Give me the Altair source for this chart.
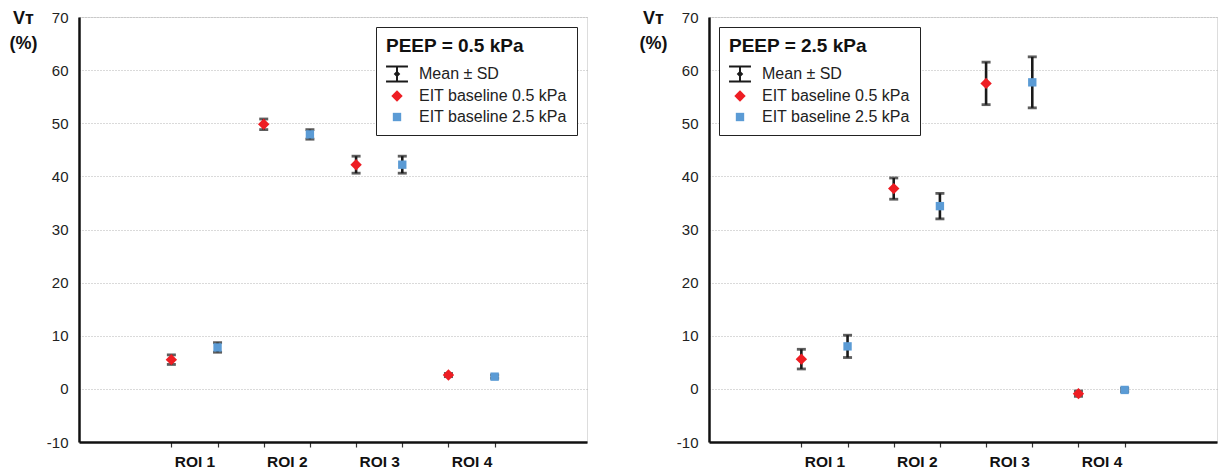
import altair as alt
import pandas as pd

# ---------------- data ----------------
rois = ["ROI 1", "ROI 2", "ROI 3", "ROI 4"]
series = ["EIT baseline 0.5 kPa", "EIT baseline 2.5 kPa"]
series_short = ["0.5", "2.5"]
mean_label = "Mean ± SD"
panel_titles = ["PEEP = 0.5 kPa", "PEEP = 2.5 kPa"]
y_title = ["V\u1d1b", "(%)"]
y_ticks = [-10, 0, 10, 20, 30, 40, 50, 60, 70]

# panel 1: PEEP = 0.5 kPa
p1_mean_05 = [5.5, 49.8, 42.2, 2.6]
p1_sd_05 = [0.9, 1.0, 1.6, 0.3]
p1_mean_25 = [7.8, 47.9, 42.2, 2.3]
p1_sd_25 = [0.9, 0.9, 1.6, 0.3]

# panel 2: PEEP = 2.5 kPa
p2_mean_05 = [5.6, 37.7, 57.5, -0.9]
p2_sd_05 = [1.85, 2.0, 4.0, 0.5]
p2_mean_25 = [8.0, 34.4, 57.7, -0.2]
p2_sd_25 = [2.1, 2.4, 4.8, 0.3]

panels = [
    (p1_mean_05, p1_sd_05, p1_mean_25, p1_sd_25),
    (p2_mean_05, p2_sd_05, p2_mean_25, p2_sd_25),
]

RED = "#ee1d23"
BLUE = "#5b9bd5"
BLACK = "#1a1a1a"
FONT = "Liberation Sans"

# legend symbol for mean +/- SD (I-beam with small diamond), unit coords
ibeam = ("M-1,-0.78H1V-0.6H-1Z M-0.09,-0.6H0.09V0.6H-0.09Z "
         "M-1,0.6H1V0.78H-1Z M0,-0.3L0.3,0L0,0.3L-0.3,0Z")

legend_items = [mean_label] + series
keys = [f"{r}|{s}" for r in rois for s in series_short]
# empty slots on both sides of the category axis (blank margin)
x_domain = ["~a", "~b"] + keys + ["~c", "~d"]
label_expr = "indexof(datum.value, '|0.5') >= 0 ? split(datum.value, '|')[0] : ''"
y_label_expr = "datum.value < 0 ? '-' + abs(datum.value) : '' + datum.value"


def make_df(m05, s05, m25, s25):
    rows = []
    for i, r in enumerate(rois):
        for j, (m, s) in enumerate([(m05[i], s05[i]), (m25[i], s25[i])]):
            rows.append({"roi": r, "series": series[j],
                         "key": f"{r}|{series_short[j]}",
                         "mean": m, "lo": m - s, "hi": m + s})
    return pd.DataFrame(rows)


W, H = 508, 425


def make_panel(idx):
    df = make_df(*panels[idx])
    base = alt.Chart(df)
    x_scale = alt.Scale(type="point", domain=x_domain, padding=0)
    x_enc = alt.X(
        "key:N",
        scale=x_scale,
        axis=alt.Axis(
            values=keys,
            title=None, labelExpr=label_expr, labelAngle=0,
            labelOffset=W / 11 / 2, labelFont=FONT, labelFontSize=15.5,
            labelFontWeight="bold", labelColor="#111", labelPadding=7,
            tickSize=5, tickColor="#333", tickWidth=1.2,
            domainColor="#111", domainWidth=2.5, grid=False,
        ),
    )
    y_scale = alt.Scale(domain=[-10, 70], nice=False, zero=False)
    y_axis = alt.Axis(
        values=y_ticks, title=y_title, titleAngle=0, titleAlign="center",
        titleBaseline="top", titleX=-56, titleY=-8, titleFont=FONT,
        titleFontSize=18, titleFontWeight="bold", titleColor="#111",
        titleLineHeight=25,
        labelExpr=y_label_expr,
        labelFont=FONT, labelFontSize=15, labelColor="#222", labelPadding=11,
        ticks=False, domainColor="#111", domainWidth=2.5,
        grid=True, gridDash=[1, 2], gridColor="#b5b5b5", gridWidth=1,
    )
    rules = base.mark_rule(color=BLACK, strokeWidth=2.6).encode(
        x=x_enc,
        y=alt.Y("lo:Q", scale=y_scale, axis=y_axis),
        y2="hi:Q",
    )
    caps_lo = base.mark_tick(color=BLACK, size=9, thickness=2.8,
                             orient="horizontal").encode(
        x=alt.X("key:N"), y=alt.Y("lo:Q"))
    caps_hi = base.mark_tick(color=BLACK, size=9, thickness=2.8,
                             orient="horizontal").encode(
        x=alt.X("key:N"), y=alt.Y("hi:Q"))

    legend = alt.Legend(
        title=panel_titles[idx],
        orient="top-right" if idx == 0 else "top-left",
        offset=10,
        padding=10,
        strokeColor="#222",
        fillColor="white",
        titleFont=FONT, titleFontSize=19, titleFontWeight="bold",
        titleColor="#111", titlePadding=7,
        labelFont=FONT, labelFontSize=16, labelColor="#222",
        labelOffset=11, rowPadding=5, symbolStrokeWidth=0,
    )
    pts = base.mark_point(filled=True, opacity=1, strokeWidth=0).encode(
        x=alt.X("key:N"),
        y=alt.Y("mean:Q"),
        color=alt.Color("series:N", title=panel_titles[idx], legend=legend,
                        scale=alt.Scale(domain=legend_items,
                                        range=[BLACK, RED, BLUE])),
        shape=alt.Shape("series:N", title=panel_titles[idx], legend=legend,
                        scale=alt.Scale(domain=legend_items,
                                        range=[ibeam, "diamond", "square"])),
        size=alt.Size("series:N", title=panel_titles[idx], legend=legend,
                      scale=alt.Scale(type="ordinal", domain=legend_items,
                                      range=[480, 130, 70])),
    )
    return alt.layer(rules, caps_lo, caps_hi, pts).properties(width=W, height=H)


chart = alt.hconcat(make_panel(0), make_panel(1), spacing=50).resolve_scale(
    color="independent", shape="independent", size="independent"
).resolve_legend(
    color="independent", shape="independent", size="independent"
).properties(
    padding={"top": 0, "left": 0, "right": 0, "bottom": 0}
).configure_view(
    stroke="#222", strokeWidth=1.8
).configure(background="white")

chart.save("out.html", embed_options={"renderer": "svg", "actions": False})
